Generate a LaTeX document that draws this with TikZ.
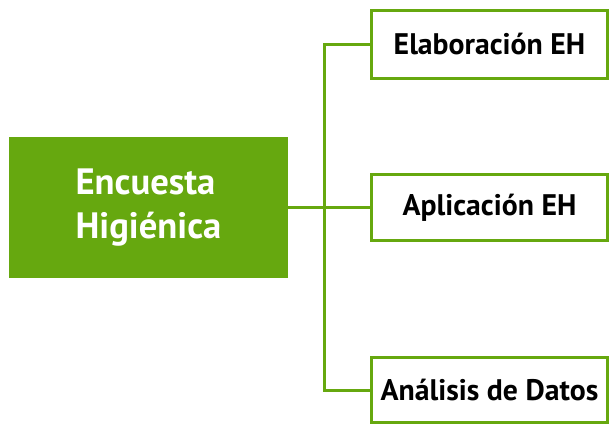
\documentclass[tikz,border=0pt]{standalone}
\usepackage{fontspec}
\setmainfont{PT Sans}
\definecolor{eh}{HTML}{66A80F}
\begin{document}
\begin{tikzpicture}[x=0.75pt,y=-0.75pt]
\tikzset{
  leaf/.style={draw=eh, line width=2.25pt, fill=white, minimum width=177pt, inner sep=0pt,
    font=\fontsize{22.3}{26}\selectfont\bfseries, text=black},
  root/.style={fill=eh, minimum width=209.25pt, minimum height=105.75pt, inner sep=0pt,
    text=white, align=left, font=\fontsize{27.5}{33}\selectfont\bfseries},
  link/.style={draw=eh, line width=2.25pt}
}
\useasboundingbox (0,0) rectangle (610,426);
\node[root] (main) at (148.5,207.5) {Encuesta\\Higiénica};
\node[leaf, minimum height=51pt] (b1) at (489.5,44) {Elaboración EH};
\node[leaf, minimum height=50pt] (b2) at (489.5,207.5) {Aplicación EH};
\node[leaf, minimum height=49pt] (b3) at (489.5,390) {Análisis de Datos};
\coordinate (j) at (324,207.5);
\draw[link] (main.east) -- (j);
\draw[link] (b1.west) -| (j) |- (b3.west);
\draw[link] (j) -- (b2.west);
\end{tikzpicture}
\end{document}
